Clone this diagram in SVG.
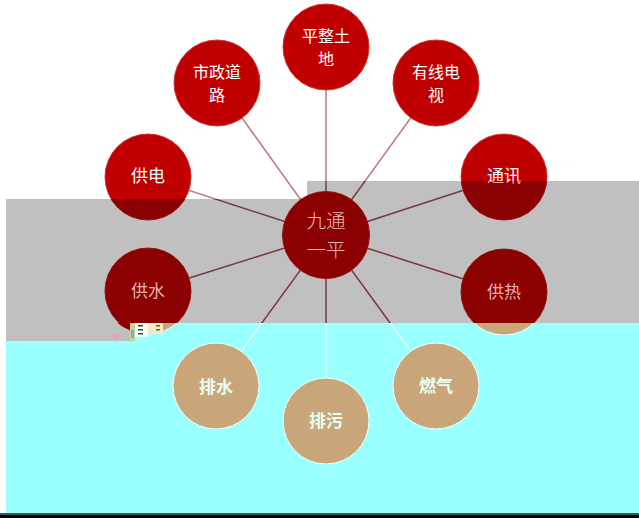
<svg xmlns="http://www.w3.org/2000/svg" width="639" height="518" viewBox="0 0 639 518">
<defs>
<linearGradient id="cL" gradientUnits="userSpaceOnUse" x1="0" y1="0" x2="0" y2="518">
<stop offset="0" stop-color="#C00000"/><stop offset="0.38417" stop-color="#C00000"/>
<stop offset="0.38417" stop-color="#8B0000"/><stop offset="0.62355" stop-color="#8B0000"/>
<stop offset="0.62355" stop-color="#C9A57A"/><stop offset="1" stop-color="#C9A57A"/>
</linearGradient>
<linearGradient id="cR" gradientUnits="userSpaceOnUse" x1="0" y1="0" x2="0" y2="518">
<stop offset="0" stop-color="#C00000"/><stop offset="0.34942" stop-color="#C00000"/>
<stop offset="0.34942" stop-color="#8B0000"/><stop offset="0.62355" stop-color="#8B0000"/>
<stop offset="0.62355" stop-color="#C9A57A"/><stop offset="1" stop-color="#C9A57A"/>
</linearGradient>
<linearGradient id="sL" gradientUnits="userSpaceOnUse" x1="0" y1="0" x2="0" y2="518">
<stop offset="0" stop-color="#D03030"/><stop offset="0.38417" stop-color="#D03030"/>
<stop offset="0.38417" stop-color="#951010"/><stop offset="0.62355" stop-color="#951010"/>
<stop offset="0.62355" stop-color="#EFFFFF"/><stop offset="1" stop-color="#EFFFFF"/>
</linearGradient>
<linearGradient id="sR" gradientUnits="userSpaceOnUse" x1="0" y1="0" x2="0" y2="518">
<stop offset="0" stop-color="#D03030"/><stop offset="0.34942" stop-color="#D03030"/>
<stop offset="0.34942" stop-color="#951010"/><stop offset="0.62355" stop-color="#951010"/>
<stop offset="0.62355" stop-color="#EFFFFF"/><stop offset="1" stop-color="#EFFFFF"/>
</linearGradient>
<linearGradient id="lL" gradientUnits="userSpaceOnUse" x1="0" y1="0" x2="0" y2="518">
<stop offset="0" stop-color="#C27686"/><stop offset="0.38417" stop-color="#C27686"/>
<stop offset="0.38417" stop-color="#7A3444"/><stop offset="0.62355" stop-color="#7A3444"/>
<stop offset="0.62355" stop-color="#E4FFFF"/><stop offset="1" stop-color="#E4FFFF"/>
</linearGradient>
<linearGradient id="lR" gradientUnits="userSpaceOnUse" x1="0" y1="0" x2="0" y2="518">
<stop offset="0" stop-color="#C27686"/><stop offset="0.34942" stop-color="#C27686"/>
<stop offset="0.34942" stop-color="#7A3444"/><stop offset="0.62355" stop-color="#7A3444"/>
<stop offset="0.62355" stop-color="#E4FFFF"/><stop offset="1" stop-color="#E4FFFF"/>
</linearGradient>
<linearGradient id="tR" gradientUnits="userSpaceOnUse" x1="0" y1="0" x2="0" y2="518">
<stop offset="0" stop-color="#FFFFFF"/><stop offset="0.34942" stop-color="#FFFFFF"/>
<stop offset="0.34942" stop-color="#EDB0B0"/><stop offset="1" stop-color="#EDB0B0"/>
</linearGradient>
</defs>
<style>
text{font-family:"Noto Sans CJK SC","Noto Sans",sans-serif;font-size:17px;text-anchor:middle}
.t2{font-size:16px}
.w{fill:#FFFFFF}
.p{fill:#EDB0B0}
.c{fill:#E8FFF4;font-weight:bold}
.big{font-size:19.5px;font-weight:300;fill:#F0B8B8}
.nl{fill:url(#cL);stroke:url(#sL);stroke-width:1}
.nr{fill:url(#cR);stroke:url(#sR);stroke-width:1}
.el{stroke:url(#lL);stroke-width:1.5;fill:none}
.er{stroke:url(#lR);stroke-width:1.5;fill:none}
</style>
<g id="background">
<rect x="0" y="0" width="639" height="518" fill="#FFFFFF"/>
<rect x="6" y="323" width="633" height="190" fill="#99FFFF"/>
<path d="M6,199 H307 V181 H639 V323 H130 V341 H6 Z" fill="#C0C0C0"/>
<rect x="0" y="513" width="639" height="1.5" fill="#2A5A5A"/>
<rect x="0" y="514.5" width="639" height="3.5" fill="#050505"/>
</g>
<g id="connectors">
<line class="er" x1="326" y1="235" x2="326" y2="47"/>
<line class="el" x1="326" y1="235" x2="217" y2="83"/>
<line class="er" x1="326" y1="235" x2="436" y2="83"/>
<line class="el" x1="326" y1="235" x2="148" y2="177"/>
<line class="er" x1="326" y1="235" x2="504" y2="177"/>
<line class="el" x1="326" y1="235" x2="148" y2="291"/>
<line class="er" x1="326" y1="235" x2="504" y2="292"/>
<line class="el" x1="326" y1="235" x2="216" y2="386"/>
<line class="er" x1="326" y1="235" x2="326" y2="421"/>
<line class="er" x1="326" y1="235" x2="436" y2="386"/>
</g>
<g id="n-center">
<circle cx="326" cy="235" r="43.5" style="fill:#8B0000;stroke:#951010;stroke-width:1"/>
<text class="big" x="326" y="228"><tspan x="326" y="228">九通</tspan><tspan x="326" y="256.7">一平</tspan></text>
</g>
<g id="n-pingzheng">
<circle class="nr" cx="326" cy="47" r="43"/>
<text class="w t2" x="326" y="41.75"><tspan x="326" y="41.75">平整土</tspan><tspan x="326" y="65.25">地</tspan></text>
</g>
<g id="n-shizheng">
<circle class="nl" cx="217" cy="83" r="43"/>
<text class="w t2" x="217" y="77.75"><tspan x="217" y="77.75">市政道</tspan><tspan x="217" y="101.25">路</tspan></text>
</g>
<g id="n-youxian">
<circle class="nr" cx="436" cy="83" r="43"/>
<text class="w t2" x="436" y="77.75"><tspan x="436" y="77.75">有线电</tspan><tspan x="436" y="101.25">视</tspan></text>
</g>
<g id="n-gongdian">
<circle class="nl" cx="148" cy="177" r="43"/>
<text class="w" x="148" y="182">供电</text>
</g>
<g id="n-tongxun">
<circle class="nr" cx="504" cy="177" r="43"/>
<text x="504" y="182" style="fill:url(#tR)">通讯</text>
</g>
<g id="n-gongshui">
<circle class="nl" cx="148" cy="291" r="43"/>
<path d="M117.5,323 H130 V330.5 A43,43 0 0 1 117.5,323 Z" fill="#8B0000"/>
<text class="p" x="148" y="297">供水</text>
</g>
<g id="n-gongre">
<circle class="nr" cx="504" cy="292" r="43"/>
<text class="p" x="504" y="298">供热</text>
</g>
<g id="n-paishui">
<circle class="nl" cx="216" cy="386" r="43"/>
<text class="c" x="216" y="393">排水</text>
</g>
<g id="n-paiwu">
<circle class="nr" cx="326" cy="421" r="43"/>
<text class="c" x="326" y="427">排污</text>
</g>
<g id="n-ranqi">
<circle class="nr" cx="436" cy="386" r="43"/>
<text class="c" x="436" y="392">燃气</text>
</g>
<g id="artifacts">
<rect x="113" y="334" width="6" height="5" fill="#E8A0C0"/>
<rect x="130" y="323" width="5" height="18" fill="#B8D890"/>
<rect x="131" y="330" width="3" height="8" fill="#B090D0"/>
<rect x="135" y="323" width="13" height="14" fill="#F4FFF0"/>
<rect x="138" y="325" width="5" height="1.5" fill="#205040"/>
<rect x="138" y="329" width="5" height="1.5" fill="#204080"/>
<rect x="138" y="333" width="5" height="1.5" fill="#205040"/>
<rect x="148" y="323" width="15" height="11" fill="#F6E8C4"/>
<rect x="156" y="325" width="4" height="1.5" fill="#6A5A40"/>
<rect x="156" y="329" width="4" height="1.5" fill="#6A5A40"/>
</g>
</svg>
